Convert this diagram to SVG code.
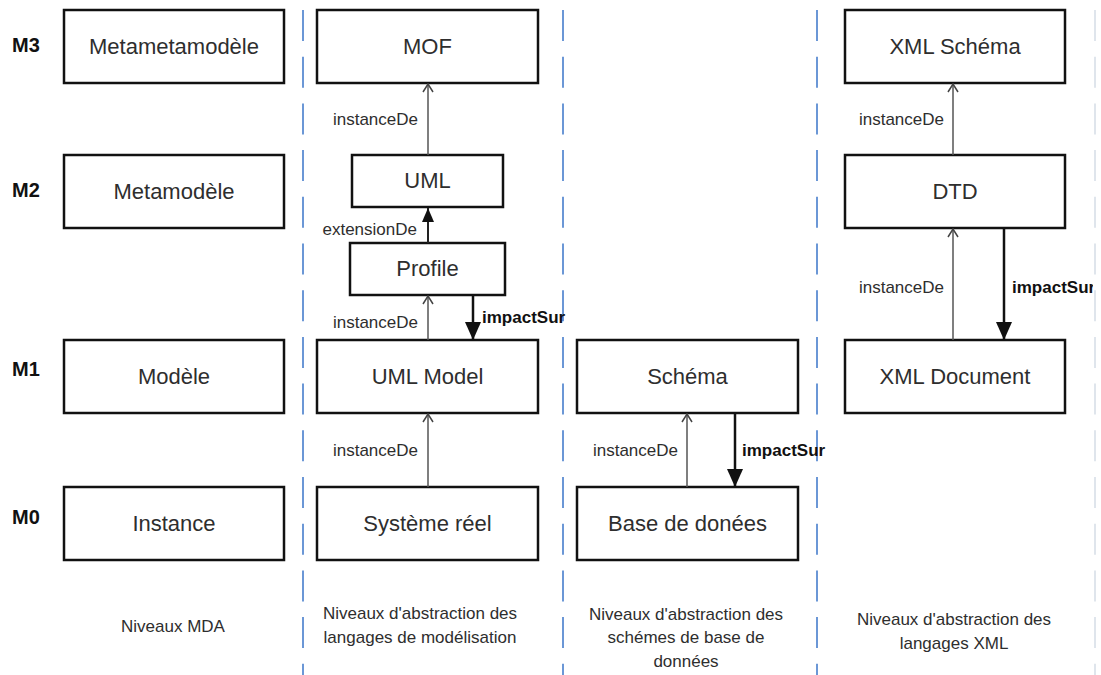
<svg xmlns="http://www.w3.org/2000/svg" width="1101" height="675" viewBox="0 0 1101 675">
  <style>
    .box { fill: #ffffff; stroke: #111111; stroke-width: 2.5; }
    .lbl { font-family: "Liberation Sans", Arial, sans-serif; font-size: 22px; fill: #2e2e2e; text-anchor: middle; }
    .lvl { font-family: "Liberation Sans", Arial, sans-serif; font-size: 20px; font-weight: bold; fill: #111111; }
    .rel { font-family: "Liberation Sans", Arial, sans-serif; font-size: 17px; fill: #2e2e2e; text-anchor: end; }
    .imp { font-family: "Liberation Sans", Arial, sans-serif; font-size: 17px; font-weight: bold; fill: #111111; }
    .cap { font-family: "Liberation Sans", Arial, sans-serif; font-size: 17px; fill: #2e2e2e; text-anchor: middle; }
    .inst { stroke: #555555; stroke-width: 1.5; fill: none; marker-end: url(#open); }
    .ext { stroke: #222222; stroke-width: 2; fill: none; marker-end: url(#fillSmall); }
    .impact { stroke: #111111; stroke-width: 2.5; fill: none; marker-end: url(#fill); }
    .sep { stroke: #6b97d6; stroke-width: 2; stroke-dasharray: 31 15.7; fill: none; }
    .sepFaint { stroke: #dfe5ec; stroke-width: 2; stroke-dasharray: 31 15.7; fill: none; }
  </style>
  <defs>
    <marker id="open" markerUnits="userSpaceOnUse" markerWidth="12" markerHeight="12" viewBox="0 0 12 12" refX="11" refY="6" orient="auto">
      <path d="M3,1 L11,6 L3,11" fill="none" stroke="#444444" stroke-width="1.5"/>
    </marker>
    <marker id="fill" markerUnits="userSpaceOnUse" markerWidth="18" markerHeight="16" viewBox="0 0 18 16" refX="18" refY="8" orient="auto">
      <path d="M0,0 L18,8 L0,16 z" fill="#111111"/>
    </marker>
    <marker id="fillSmall" markerUnits="userSpaceOnUse" markerWidth="14" markerHeight="12" viewBox="0 0 14 12" refX="14" refY="6" orient="auto">
      <path d="M0,0 L14,6 L0,12 z" fill="#111111"/>
    </marker>
  </defs>

  <rect width="1101" height="675" fill="#ffffff"/>

  <!-- column separators -->
  <g id="separators">
    <line class="sep" x1="303" y1="10" x2="303" y2="675"/>
    <line class="sep" x1="563" y1="10" x2="563" y2="675"/>
    <line class="sep" x1="817" y1="10" x2="817" y2="675"/>
  </g>

  <!-- level labels -->
  <g id="levels">
    <text class="lvl" x="12" y="52">M3</text>
    <text class="lvl" x="12" y="197">M2</text>
    <text class="lvl" x="12" y="376">M1</text>
    <text class="lvl" x="12" y="524">M0</text>
  </g>

  <!-- MDA levels column -->
  <g id="metametamodele"><rect class="box" x="64" y="10" width="220" height="73"/><text class="lbl" x="174" y="54">Metametamodèle</text></g>
  <g id="metamodele"><rect class="box" x="64" y="155" width="220" height="73"/><text class="lbl" x="174" y="199">Metamodèle</text></g>
  <g id="modele"><rect class="box" x="64" y="340" width="220" height="73"/><text class="lbl" x="174" y="384">Modèle</text></g>
  <g id="instance"><rect class="box" x="64" y="487" width="220" height="73"/><text class="lbl" x="174" y="531">Instance</text></g>

  <!-- modelling languages column -->
  <g id="mof"><rect class="box" x="317" y="10" width="221" height="73"/><text class="lbl" x="427.5" y="54">MOF</text></g>
  <g id="uml"><rect class="box" x="352" y="155" width="151" height="52"/><text class="lbl" x="427.5" y="188">UML</text></g>
  <g id="profile"><rect class="box" x="350" y="243" width="155" height="52"/><text class="lbl" x="427.5" y="276">Profile</text></g>
  <g id="uml-model"><rect class="box" x="317" y="340" width="221" height="73"/><text class="lbl" x="427.5" y="384">UML Model</text></g>
  <g id="systeme-reel"><rect class="box" x="317" y="487" width="221" height="73"/><text class="lbl" x="427.5" y="531">Système réel</text></g>

  <!-- database column -->
  <g id="schema"><rect class="box" x="577" y="340" width="221" height="73"/><text class="lbl" x="687.5" y="384">Schéma</text></g>
  <g id="base-de-donees"><rect class="box" x="577" y="487" width="221" height="73"/><text class="lbl" x="687.5" y="531">Base de donées</text></g>

  <!-- XML column -->
  <g id="xml-schema"><rect class="box" x="845" y="10" width="220" height="73"/><text class="lbl" x="955" y="54">XML Schéma</text></g>
  <g id="dtd"><rect class="box" x="845" y="155" width="220" height="73"/><text class="lbl" x="955" y="199">DTD</text></g>
  <g id="xml-document"><rect class="box" x="845" y="340" width="220" height="73"/><text class="lbl" x="955" y="384">XML Document</text></g>

  <!-- connectors -->
  <g id="connectors">
    <line class="inst" x1="428" y1="155" x2="428" y2="84"/>
    <line class="ext" x1="428" y1="243" x2="428" y2="208"/>
    <line class="inst" x1="428" y1="340" x2="428" y2="296"/>
    <line class="impact" x1="473" y1="295" x2="473" y2="340"/>
    <line class="inst" x1="428" y1="487" x2="428" y2="414"/>

    <line class="inst" x1="687" y1="487" x2="687" y2="414"/>
    <line class="impact" x1="735" y1="413" x2="735" y2="487"/>

    <line class="inst" x1="953" y1="155" x2="953" y2="84"/>
    <line class="inst" x1="953" y1="340" x2="953" y2="229"/>
    <line class="impact" x1="1004" y1="228" x2="1004" y2="340"/>

    <text class="rel" x="418" y="125">instanceDe</text>
    <text class="rel" x="417" y="235">extensionDe</text>
    <text class="rel" x="418" y="328">instanceDe</text>
    <text class="imp" x="482" y="323">impactSur</text>
    <text class="rel" x="418" y="456">instanceDe</text>
    <text class="rel" x="678" y="456">instanceDe</text>
    <text class="imp" x="742" y="456">impactSur</text>
    <text class="rel" x="944" y="125">instanceDe</text>
    <text class="rel" x="944" y="293">instanceDe</text>
    <text class="imp" x="1012" y="293">impactSur</text>
  </g>

  <!-- right margin -->
  <rect x="1093" y="0" width="8" height="675" fill="#ffffff"/>
  <line class="sepFaint" x1="1095" y1="10" x2="1095" y2="675"/>

  <!-- column captions -->
  <g id="captions">
    <text class="cap" x="173" y="632">Niveaux MDA</text>
    <text class="cap" x="420" y="619">Niveaux d'abstraction des</text>
    <text class="cap" x="420" y="643">langages de modélisation</text>
    <text class="cap" x="686" y="620">Niveaux d'abstraction des</text>
    <text class="cap" x="686" y="643">schémes de base de</text>
    <text class="cap" x="686" y="667">données</text>
    <text class="cap" x="954" y="625">Niveaux d'abstraction des</text>
    <text class="cap" x="954" y="649">langages XML</text>
  </g>
</svg>
